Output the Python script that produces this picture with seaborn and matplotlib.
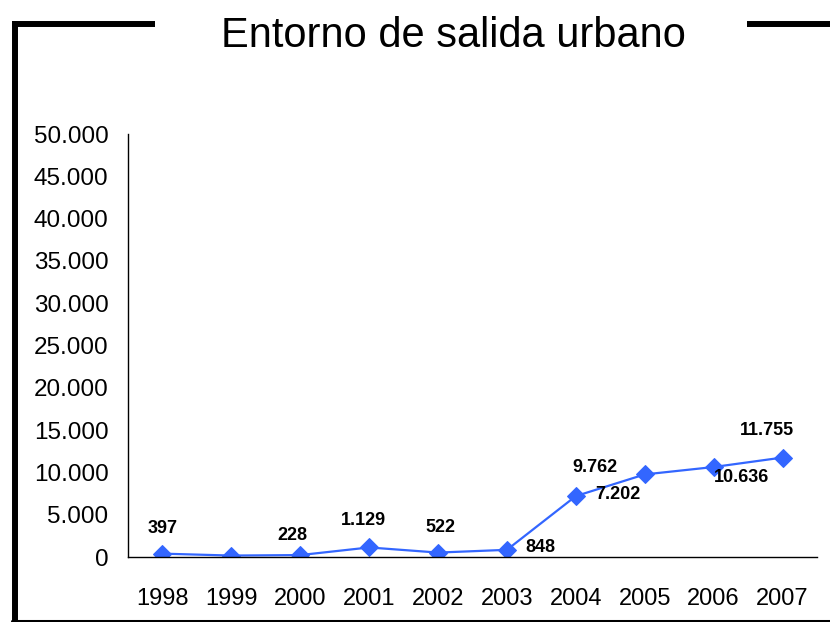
import pandas as pd
import matplotlib
matplotlib.use('Agg')
import matplotlib.pyplot as plt
from matplotlib.lines import Line2D
from matplotlib.ticker import FuncFormatter, FixedLocator
import seaborn as sns

years = ['1998', '1999', '2000', '2001', '2002', '2003', '2004', '2005', '2006', '2007']
values = [397, 170, 228, 1129, 522, 848, 7202, 9762, 10636, 11755]
shown = [True, False, True, True, True, True, True, True, True, True]

# label offsets in points (dx, dy)
offsets = [(0, 18), (0, 0), (-6, 14), (-4, 19.5), (2, 18), (24, 1.5),
           (30, 1), (-36, 5), (20, -7.5), (-11, 19.5)]

df = pd.DataFrame({'pos': range(len(years)), 'year': years, 'value': values})

sns.set_style('white')
plt.rcParams['font.family'] = ['Liberation Sans', 'DejaVu Sans']
plt.rcParams['text.color'] = 'black'
plt.rcParams['xtick.color'] = 'black'
plt.rcParams['ytick.color'] = 'black'

fig = plt.figure(figsize=(8.3, 6.22), dpi=100)
ax = fig.add_axes([0.1542, 0.1045, 0.8301, 0.680])

sns.lineplot(data=df, x='pos', y='value', ax=ax, color='#3366FF', marker='D',
             markersize=9, markeredgecolor='#3366FF', linewidth=1.6)

for i, (v, s) in enumerate(zip(values, shown)):
    if not s:
        continue
    ax.annotate(f'{v:,}'.replace(',', '.'), (i, v), xytext=offsets[i],
                textcoords='offset points', ha='center', va='center',
                fontsize=13, fontweight='bold', color='black')

ax.set_xlim(-0.5, len(years) - 0.5)
ax.set_ylim(0, 50000)
ax.set_yticks(range(0, 50001, 5000))
ax.yaxis.set_major_formatter(FuncFormatter(lambda v, p: f'{int(v):,}'.replace(',', '.')))
ax.set_xticks(range(len(years)))
ax.set_xticklabels(years)
ax.xaxis.set_minor_locator(FixedLocator([i - 0.5 for i in range(len(years) + 1)]))
ax.tick_params(axis='x', which='major', length=0, pad=22, labelsize=17, labelcolor='black')
ax.tick_params(axis='x', which='minor', length=7, width=1, color='#444444', direction='out')
ax.tick_params(axis='y', length=7, width=1, color='#444444', direction='out', pad=7,
               labelsize=17.5, labelcolor='black')
ax.set_xlabel('')
ax.set_ylabel('')
for side in ['top', 'right']:
    ax.spines[side].set_visible(False)
for side in ['left', 'bottom']:
    ax.spines[side].set_color('black')
    ax.spines[side].set_linewidth(1)

# frame around the chart, broken by the title
W, H = 830, 622
def fx(px):
    return px / W
def fy(py):
    return 1 - py / H
fig.add_artist(Line2D([fx(15), fx(15)], [fy(21), fy(622)], color='black', lw=4.3,
                      solid_capstyle='butt'))
fig.add_artist(Line2D([fx(12), fx(155)], [fy(24), fy(24)], color='black', lw=4.3,
                      solid_capstyle='butt'))
fig.add_artist(Line2D([fx(747), fx(830)], [fy(24), fy(24)], color='black', lw=4.3,
                      solid_capstyle='butt'))
fig.add_artist(Line2D([fx(12), fx(830)], [fy(620.5), fy(620.5)], color='black', lw=2.2))

fig.text(fx(453), fy(46.7), 'Entorno de salida urbano', ha='center', va='baseline',
         fontsize=30, color='black')

fig.savefig('out.png', dpi=100)
